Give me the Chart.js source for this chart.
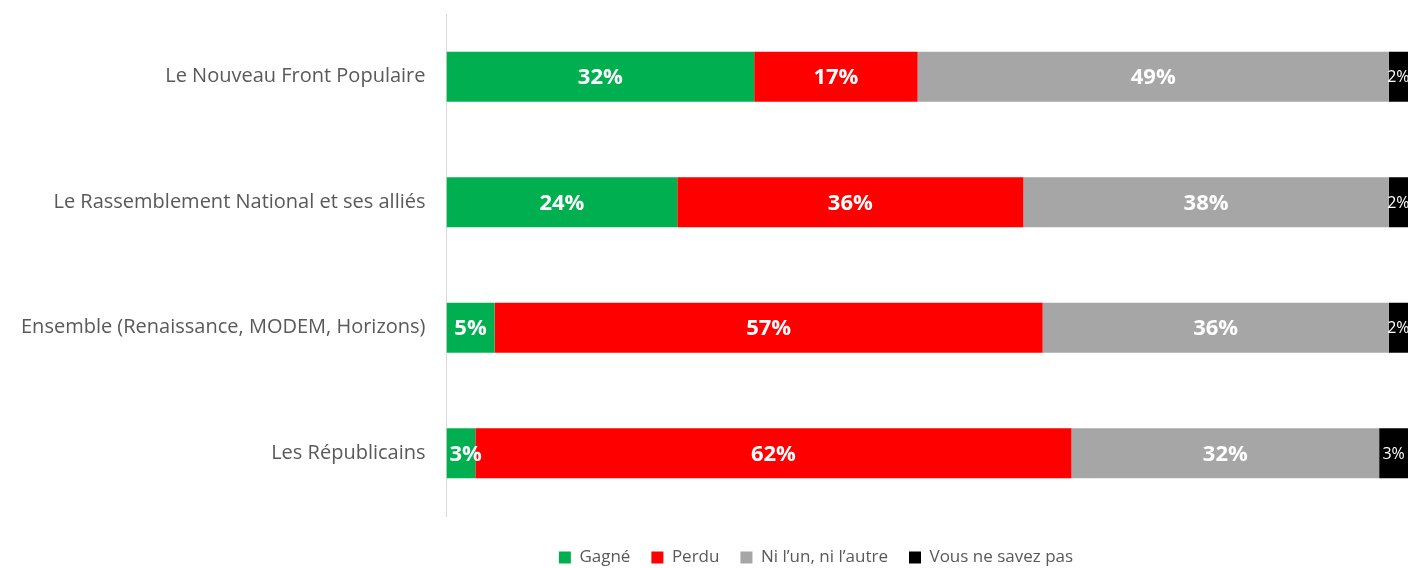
<!DOCTYPE html>
<html>
<head>
<meta charset="utf-8">
<script src="https://cdn.jsdelivr.net/npm/chart.js@4.4.1/dist/chart.umd.min.js"></script>
<style>
html,body{margin:0;padding:0;background:#fff;}
#wrap{width:1410px;height:568px;position:relative;}
</style>
</head>
<body>
<div id="wrap"><canvas id="c" width="1410" height="568"></canvas></div>
<script>
const categories = [
  "Le Nouveau Front Populaire",
  "Le Rassemblement National et ses alliés",
  "Ensemble (Renaissance, MODEM, Horizons)",
  "Les Républicains"
];
const seriesNames = ["Gagné", "Perdu", "Ni l’un, ni l’autre", "Vous ne savez pas"];
const gagne = [32, 24, 5, 3];
const perdu = [17, 36, 57, 62];
const niLunNiLautre = [49, 38, 36, 32];
const nsp = [2, 2, 2, 3];
const colors = ["#00b050", "#ff0000", "#a6a6a6", "#000000"];

const FONT = "'Open Sans', 'DejaVu Sans', sans-serif";

const labelPlugin = {
  id: 'barLabels',
  afterLayout(chart) {
    const L = chart.legend;
    if (L) {
      const dx = 112, dy = 12;
      L.left += dx; L.right += dx;
      L.top += dy; L.bottom += dy;
    }
  },
  afterDatasetsDraw(chart) {
    const ctx = chart.ctx;
    chart.data.datasets.forEach((ds, di) => {
      const meta = chart.getDatasetMeta(di);
      meta.data.forEach((bar, i) => {
        const v = ds.data[i];
        const text = v + '%';
        ctx.save();
        ctx.fillStyle = '#ffffff';
        ctx.textAlign = 'center';
        ctx.textBaseline = 'middle';
        ctx.font = (di === 3 ? "16px " : "bold 22px ") + FONT;
        let cx = (bar.x + bar.base) / 2;
        const w = ctx.measureText(text).width;
        const left = Math.min(bar.x, bar.base);
        if (cx - w / 2 < left + 3 && di === 0) cx = left + 3 + w / 2;
        ctx.fillText(text, cx, bar.y + 1);
        ctx.restore();
      });
    });
  }
};

new Chart(document.getElementById('c'), {
  type: 'bar',
  data: {
    labels: categories,
    datasets: [
      { label: seriesNames[0], data: gagne, backgroundColor: colors[0] },
      { label: seriesNames[1], data: perdu, backgroundColor: colors[1] },
      { label: seriesNames[2], data: niLunNiLautre, backgroundColor: colors[2] },
      { label: seriesNames[3], data: nsp, backgroundColor: colors[3] }
    ]
  },
  options: {
    indexAxis: 'y',
    responsive: false,
    animation: false,
    devicePixelRatio: 1,
    datasets: { bar: { barPercentage: 0.4, categoryPercentage: 1.0, borderWidth: 0 } },
    layout: { padding: { top: 14, right: 2, left: 0, bottom: 4 } },
    scales: {
      x: {
        stacked: true, min: 0, max: 100, display: false
      },
      y: {
        stacked: true,
        afterFit(scale) { scale.paddingTop = 0; scale.paddingBottom = 0; },
        grid: { display: false, drawTicks: false },
        border: { display: true, color: '#d9d9d9', width: 1 },
        ticks: { color: '#595959', font: { family: FONT, size: 20 }, padding: 21 }
      }
    },
    plugins: {
      legend: {
        position: 'bottom',
        labels: {
          color: '#595959',
          font: { family: FONT, size: 17 },
          boxWidth: 12, boxHeight: 12,
          padding: 21
        }
      },
      tooltip: { enabled: false }
    }
  },
  plugins: [labelPlugin]
});
</script>
</body>
</html>
